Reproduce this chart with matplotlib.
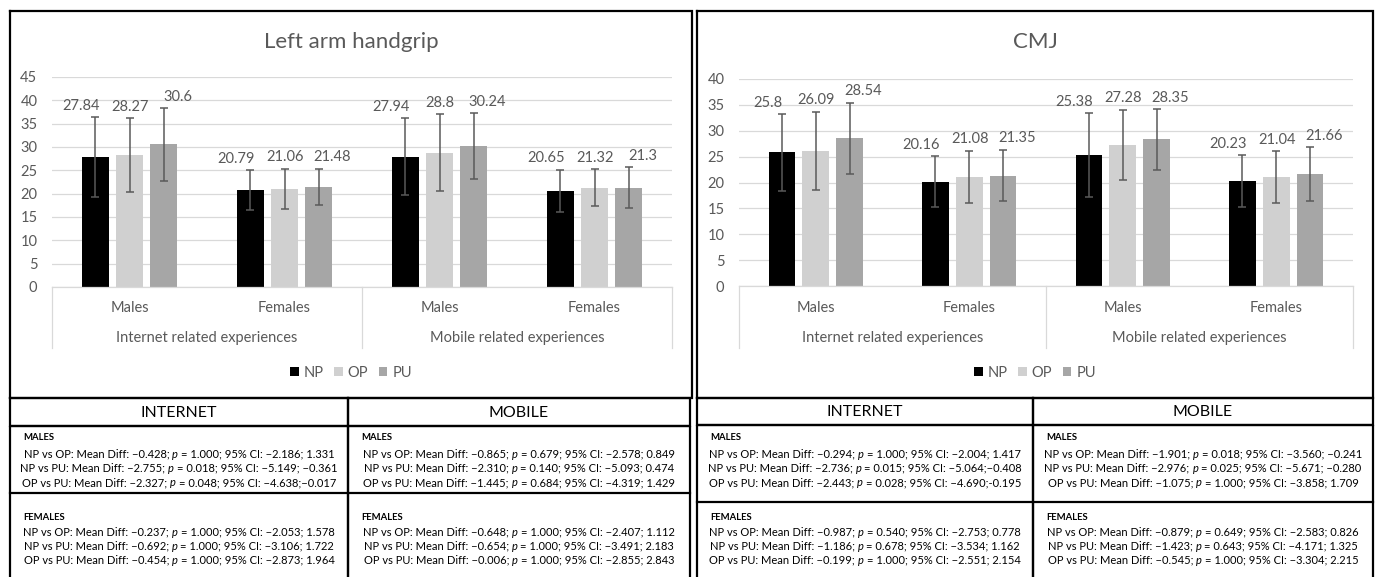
import matplotlib
matplotlib.use("Agg")
import matplotlib.pyplot as plt
from matplotlib.transforms import blended_transform_factory
from matplotlib.patches import Patch

plt.rcParams['font.family'] = ['Lato', 'DejaVu Sans']

W, H = 1378, 577
GREY_TXT = '#595959'
GRID = '#d9d9d9'

groups = ["NP", "OP", "PU"]
colors = ["#000000", "#d0d0d0", "#a6a6a6"]
sexes = ["Males", "Females", "Males", "Females"]
contexts = ["Internet related experiences", "Mobile related experiences"]

# Left arm handgrip: means and error bar half-widths
grip_np = [27.84, 20.79, 27.94, 20.65]
grip_op = [28.27, 21.06, 28.8, 21.32]
grip_pu = [30.6, 21.48, 30.24, 21.3]
grip_np_err = [8.6, 4.2, 8.3, 4.5]
grip_op_err = [7.9, 4.3, 8.3, 4.0]
grip_pu_err = [7.8, 3.9, 7.0, 4.4]

# CMJ
cmj_np = [25.8, 20.16, 25.38, 20.23]
cmj_op = [26.09, 21.08, 27.28, 21.04]
cmj_pu = [28.54, 21.35, 28.35, 21.66]
cmj_np_err = [7.4, 4.9, 8.1, 5.0]
cmj_op_err = [7.6, 5.1, 6.8, 5.0]
cmj_pu_err = [6.9, 5.0, 5.9, 5.2]

# post-hoc comparisons: (pair, mean diff, p, CI)
M = "\u2212"
grip_int_m = [("NP vs OP", M + "0.428", "1.000", M + "2.186; 1.331"),
              ("NP vs PU", M + "2.755", "0.018", M + "5.149; " + M + "0.361"),
              ("OP vs PU", M + "2.327", "0.048", M + "4.638;" + M + "0.017")]
grip_int_f = [("NP vs OP", M + "0.237", "1.000", M + "2.053; 1.578"),
              ("NP vs PU", M + "0.692", "1.000", M + "3.106; 1.722"),
              ("OP vs PU", M + "0.454", "1.000", M + "2.873; 1.964")]
grip_mob_m = [("NP vs OP", M + "0.865", "0.679", M + "2.578; 0.849"),
              ("NP vs PU", M + "2.310", "0.140", M + "5.093; 0.474"),
              ("OP vs PU", M + "1.445", "0.684", M + "4.319; 1.429")]
grip_mob_f = [("NP vs OP", M + "0.648", "1.000", M + "2.407; 1.112"),
              ("NP vs PU", M + "0.654", "1.000", M + "3.491; 2.183"),
              ("OP vs PU", M + "0.006", "1.000", M + "2.855; 2.843")]
cmj_int_m = [("NP vs OP", M + "0.294", "1.000", M + "2.004; 1.417"),
             ("NP vs PU", M + "2.736", "0.015", M + "5.064;" + M + "0.408"),
             ("OP vs PU", M + "2.443", "0.028", M + "4.690;-0.195")]
cmj_int_f = [("NP vs OP", M + "0.987", "0.540", M + "2.753; 0.778"),
             ("NP vs PU", M + "1.186", "0.678", M + "3.534; 1.162"),
             ("OP vs PU", M + "0.199", "1.000", M + "2.551; 2.154")]
cmj_mob_m = [("NP vs OP", M + "1.901", "0.018", M + "3.560; " + M + "0.241"),
             ("NP vs PU", M + "2.976", "0.025", M + "5.671; " + M + "0.280"),
             ("OP vs PU", M + "1.075", "1.000", M + "3.858; 1.709")]
cmj_mob_f = [("NP vs OP", M + "0.879", "0.649", M + "2.583; 0.826"),
             ("NP vs PU", M + "1.423", "0.643", M + "4.171; 1.325"),
             ("OP vs PU", M + "0.545", "1.000", M + "3.304; 2.215")]

fig = plt.figure(figsize=(W / 100, H / 100), dpi=100)
bg = fig.add_axes([0, 0, 1, 1])
bg.set_xlim(0, W)
bg.set_ylim(H, 0)
bg.axis('off')
renderer = fig.canvas.get_renderer()

TABLE_FS = 8.0


def width_of(s, **kw):
    t = bg.text(0, 0, s, fontsize=TABLE_FS, **kw)
    w = t.get_window_extent(renderer).width
    t.remove()
    return w


SPACE = width_of("a a") - width_of("aa")


def rect(x0, y0, x1, y1, lw=1.6):
    bg.plot([x0, x1, x1, x0, x0], [y0, y0, y1, y1, y0], color='black', lw=lw,
            solid_joinstyle='miter')


def draw_row(cx, y, row):
    pair, diff, p, ci = row
    pieces = [(f"{pair}: Mean Diff: {diff};", 'normal'), ("p", 'italic'),
              (f"= {p}; 95% CI: {ci}", 'normal')]
    widths = [width_of(s, style=st) for s, st in pieces]
    total = sum(widths) + 2 * SPACE
    x = cx - total / 2
    for (s, st), w in zip(pieces, widths):
        bg.text(x, y, s, ha='left', va='center', fontsize=TABLE_FS, style=st,
                color='black')
        x += w + SPACE


def draw_chart(box, area, ymax, title, means, errs):
    bx0, by0, bx1, by1 = box
    px0, px1, pt, pb = area
    rect(bx0, by0, bx1, by1)
    cx = (bx0 + bx1) / 2
    bg.text(cx, 42, title, ha='center', va='center', fontsize=16, color=GREY_TXT)

    ax = fig.add_axes([px0 / W, 1 - pb / H, (px1 - px0) / W, (pb - pt) / H])
    ax.set_xlim(-0.5, 3.5)
    ax.set_ylim(0, ymax)
    ax.set_yticks(range(0, ymax + 1, 5))
    ax.tick_params(axis='y', length=0, pad=10.5, labelsize=10.5, labelcolor=GREY_TXT)
    ax.set_xticks([])
    ax.grid(axis='y', color=GRID, lw=0.9)
    ax.set_axisbelow(True)
    for s in ['top', 'right', 'left']:
        ax.spines[s].set_visible(False)
    ax.spines['bottom'].set_color(GRID)
    ax.spines['bottom'].set_linewidth(0.9)

    offs = [-0.22, 0.0, 0.22]
    label_shift = [-10.5, 0.5, 10]  # points, keeps neighbouring labels apart
    for k in range(3):
        xs = [i + offs[k] for i in range(4)]
        ax.bar(xs, means[k], 0.175, color=colors[k], yerr=errs[k],
               error_kw=dict(ecolor='#5a5a5a', elinewidth=1.1, capsize=3, capthick=1.1),
               zorder=2)
        for x, v, e in zip(xs, means[k], errs[k]):
            ax.annotate(f"{v:g}", (x, v + e), xytext=(label_shift[k], 3),
                        textcoords='offset points', ha='center', va='bottom',
                        fontsize=10.5, color=GREY_TXT)

    tr = blended_transform_factory(ax.transData, bg.transData)
    for i, s in enumerate(sexes):
        ax.text(i, 308, s, transform=tr, ha='center', va='center', fontsize=10.5,
                color=GREY_TXT)
    for j, c in enumerate(contexts):
        ax.text(2 * j + 0.5, 338, c, transform=tr, ha='center', va='center',
                fontsize=10.5, color=GREY_TXT)
    for xv in [-0.5, 1.5, 3.5]:
        ax.plot([xv, xv], [pb, 348], transform=tr, color=GRID, lw=0.9, clip_on=False)

    handles = [Patch(facecolor=c) for c in colors]
    ax.legend(handles, groups, loc='center', bbox_to_anchor=(cx / W, 1 - 373 / H),
              bbox_transform=fig.transFigure, ncol=3, frameon=False,
              handlelength=0.6, handleheight=0.6, handletextpad=0.35,
              columnspacing=0.7, fontsize=10.5, labelcolor=GREY_TXT)


def draw_table(x0, xm, x1, hb, mb, cols):
    top = 398
    rect(x0, top, xm, hb)
    rect(xm, top, x1, hb)
    bg.plot([x0, x0, xm, xm, x0], [H + 5, hb, hb, H + 5, H + 5], color='black', lw=1.6)
    bg.plot([xm, xm, x1, x1], [H + 5, hb, hb, H + 5], color='black', lw=1.6)
    bg.plot([x0, x1], [mb, mb], color='black', lw=1.6)
    for (name, males, females), (a, b) in zip(cols, [(x0, xm), (xm, x1)]):
        bg.text((a + b) / 2, (top + hb) / 2 + 1, name, ha='center', va='center',
                fontsize=11.5, color='black')
        bg.text(a + 13, 438, "MALES", ha='left', va='center', fontsize=6.8,
                fontweight='bold', color='black')
        bg.text(a + 13, 517, "FEMALES", ha='left', va='center', fontsize=6.8,
                fontweight='bold', color='black')
        for r, row in enumerate(males):
            draw_row((a + b) / 2, 454 + 14.3 * r, row)
        for r, row in enumerate(females):
            draw_row((a + b) / 2, 532 + 14.2 * r, row)


draw_chart((10, 11, 692, 398), (52, 672, 77, 287), 45, "Left arm handgrip",
           [grip_np, grip_op, grip_pu], [grip_np_err, grip_op_err, grip_pu_err])
draw_chart((697, 11, 1373, 398), (739, 1353, 79, 286), 40, "CMJ",
           [cmj_np, cmj_op, cmj_pu], [cmj_np_err, cmj_op_err, cmj_pu_err])

draw_table(10, 348, 690, 426, 493,
           [("INTERNET", grip_int_m, grip_int_f), ("MOBILE", grip_mob_m, grip_mob_f)])
draw_table(697, 1033, 1373, 425, 502,
           [("INTERNET", cmj_int_m, cmj_int_f), ("MOBILE", cmj_mob_m, cmj_mob_f)])

fig.savefig("out.png", dpi=100)
